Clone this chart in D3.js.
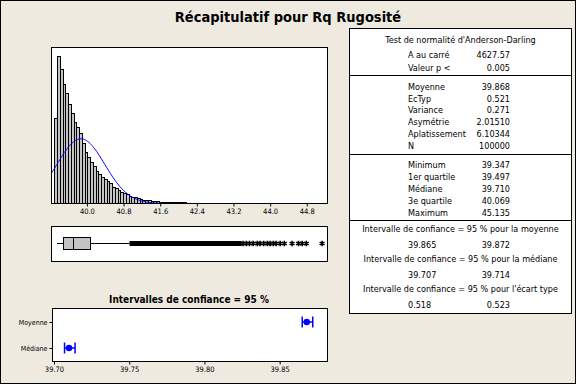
<!DOCTYPE html>
<html><head><meta charset="utf-8">
<script src="https://cdn.jsdelivr.net/npm/d3@7"></script>
<style>
body{margin:0;background:#EEEAE0}
svg{display:block}
text{font-family:'DejaVu Sans Condensed','DejaVu Sans',sans-serif;font-stretch:condensed;fill:#000}
</style>
</head><body><svg id="c" width="576" height="384"></svg>
<script>
// ---------- data ----------
const binStart = 39.30, binWidth = 0.06;
const binCounts = [6060,10440,9490,8430,7830,7010,6370,5730,5370,4950,4240,3640,3270,2930,2650,2290,2050,1880,1700,1560,1400,1160,1040,920,800,690,620,500,450,400,330,280,230,210,190,160,140,120,105,90,80,70,65,60,55,50,45,40,35,30,25,20,15];
const xTicks = [40.0,40.8,41.6,42.4,43.2,44.0,44.8];
const fitMean = 39.868, fitSd = 0.521, fitN = 100000;
const boxStats = [39.347, 39.497, 39.710, 40.069, 40.927]; // whisker low, Q1, median, Q3, whisker high
const outlierBand = [40.93, 43.38];
const outliers = [43.41,43.48,43.55,43.63,43.72,43.78,43.86,43.94,44.00,44.07,44.13,44.22,44.31,44.48,44.62,44.70,44.79,45.135];
const ciCategories = ["Moyenne","Médiane"];
const ciCenters = [39.868, 39.710];
const ciLower = [39.865, 39.707];
const ciUpper = [39.872, 39.714];
const ciTicks = [39.70,39.75,39.80,39.85];
const adLabels = ["A au carré","Valeur p <"];
const adValues = ["4627.57","0.005"];
const statLabels = ["Moyenne","EcTyp","Variance","Asymétrie","Aplatissement","N"];
const statValues = ["39.868","0.521","0.271","2.01510","6.10344","100000"];
const quartLabels = ["Minimum","1er quartile","Médiane","3e quartile","Maximum"];
const quartValues = ["39.347","39.497","39.710","40.069","45.135"];
const ciTitles = ["Intervalle de confiance = 95 % pour la moyenne","Intervalle de confiance = 95 % pour la médiane","Intervalle de confiance = 95 % pour l'écart type"];
const ciLowVals = ["39.865","39.707","0.518"];
const ciHighVals = ["39.872","39.714","0.523"];

// ---------- drawing ----------
const svg = d3.select("#c");
svg.append("rect").attr("x",0.5).attr("y",0.5).attr("width",575).attr("height",383)
  .attr("fill","#EEEAE0").attr("stroke","#000");

svg.append("text").attr("x",288).attr("y",22).attr("text-anchor","middle")
  .attr("font-size",14.5).attr("font-weight","bold").text("Récapitulatif pour Rq Rugosité");

// histogram
const hL=51.5,hR=327.5,hT=47.5,hB=203.5;
const x = d3.scaleLinear().domain([39.227,45.253]).range([hL,hR]);
const y = d3.scaleLinear().domain([0,11080]).range([hB,hT]);
svg.append("rect").attr("x",hL).attr("y",hT).attr("width",hR-hL).attr("height",hB-hT).attr("fill","#fff");
const bins = binCounts.map((c,i)=>({x0:binStart+i*binWidth,x1:binStart+(i+1)*binWidth,c}));
svg.append("g").selectAll("rect").data(bins).join("rect")
  .attr("x",d=>x(d.x0)).attr("width",d=>x(d.x1)-x(d.x0))
  .attr("y",d=>y(d.c)).attr("height",d=>y(0)-y(d.c))
  .attr("fill","#C4C4C4").attr("stroke","#000").attr("stroke-width",1).attr("shape-rendering","crispEdges");
const curvePts = d3.range(0,301).map(i=>{
  const v = 39.227 + i*(45.253-39.227)/300;
  const z=(v-fitMean)/fitSd;
  return [v, fitN*binWidth*Math.exp(-z*z/2)/(fitSd*Math.sqrt(2*Math.PI))];
});
svg.append("path").datum(curvePts).attr("fill","none").attr("stroke","#0000FF").attr("stroke-width",1)
  .attr("d",d3.line().x(d=>x(d[0])).y(d=>y(d[1])));
svg.append("rect").attr("x",hL).attr("y",hT).attr("width",hR-hL).attr("height",hB-hT)
  .attr("fill","none").attr("stroke","#000").attr("shape-rendering","crispEdges");
const xa = svg.append("g").attr("transform",`translate(0,${hB})`)
  .call(d3.axisBottom(x).tickValues(xTicks).tickFormat(d3.format(".1f")).tickSize(3).tickPadding(2));
xa.select(".domain").remove();
xa.selectAll("text").attr("font-size",7.5).attr("font-family",null);

// boxplot
const bL=51.5,bR=327.5,bT=226.5,bB=261.5, bMid=243.5;
svg.append("rect").attr("x",bL).attr("y",bT).attr("width",bR-bL).attr("height",bB-bT)
  .attr("fill","#fff").attr("stroke","#000").attr("shape-rendering","crispEdges");
svg.append("line").attr("x1",x(boxStats[0])).attr("x2",x(boxStats[1])).attr("y1",bMid).attr("y2",bMid).attr("stroke","#000");
svg.append("line").attr("x1",x(boxStats[3])).attr("x2",x(boxStats[4])).attr("y1",bMid).attr("y2",bMid).attr("stroke","#000");
svg.append("rect").attr("x",x(boxStats[1])).attr("y",237.5).attr("width",x(boxStats[3])-x(boxStats[1])).attr("height",12)
  .attr("fill","#C4C4C4").attr("stroke","#000").attr("shape-rendering","crispEdges");
svg.append("line").attr("x1",x(boxStats[2])).attr("x2",x(boxStats[2])).attr("y1",237.5).attr("y2",249.5).attr("stroke","#000").attr("shape-rendering","crispEdges");
svg.append("rect").attr("x",x(outlierBand[0])).attr("width",x(outlierBand[1])-x(outlierBand[0]))
  .attr("y",bMid-2.5).attr("height",5).attr("fill","#000");
const ast = d3.symbol().type(d3.symbolAsterisk).size(22);
svg.append("g").selectAll("path").data(outliers).join("path")
  .attr("transform",d=>`translate(${x(d)},${bMid})`).attr("d",ast)
  .attr("fill","none").attr("stroke","#000").attr("stroke-width",1.6);

// CI plot
const cL=52.5,cR=327.5,cT=308.5,cB=361.5;
const cx = d3.scaleLinear().domain([39.699,39.8818]).range([cL,cR]);
const cy = d3.scalePoint().domain(ciCategories).range([cT,cB]).padding(0.52);
svg.append("text").attr("x",189).attr("y",302.5).attr("text-anchor","middle")
  .attr("font-size",10).attr("font-weight","bold").text("Intervalles de confiance = 95 %");
svg.append("rect").attr("x",cL).attr("y",cT).attr("width",cR-cL).attr("height",cB-cT)
  .attr("fill","#fff").attr("stroke","#000").attr("shape-rendering","crispEdges");
const ca = svg.append("g").attr("transform",`translate(0,${cB})`)
  .call(d3.axisBottom(cx).tickValues(ciTicks).tickFormat(d3.format(".2f")).tickSize(3).tickPadding(2));
ca.select(".domain").remove();
ca.selectAll("text").attr("font-size",7.5).attr("font-family",null);
const cya = svg.append("g").attr("transform",`translate(${cL},0)`).call(d3.axisLeft(cy).tickSize(3).tickPadding(2));
cya.select(".domain").remove();
cya.selectAll("text").attr("font-size",7).attr("font-family",null);
const ci = ciCategories.map((c,i)=>({c,m:ciCenters[i],lo:ciLower[i],hi:ciUpper[i]}));
const cg = svg.append("g").selectAll("g").data(ci).join("g");
cg.append("line").attr("x1",d=>cx(d.lo)).attr("x2",d=>cx(d.hi)).attr("y1",d=>cy(d.c)).attr("y2",d=>cy(d.c)).attr("stroke","#0000FF").attr("stroke-width",1.5);
cg.append("line").attr("x1",d=>cx(d.lo)).attr("x2",d=>cx(d.lo)).attr("y1",d=>cy(d.c)-5.5).attr("y2",d=>cy(d.c)+5.5).attr("stroke","#0000FF").attr("stroke-width",1.5);
cg.append("line").attr("x1",d=>cx(d.hi)).attr("x2",d=>cx(d.hi)).attr("y1",d=>cy(d.c)-5.5).attr("y2",d=>cy(d.c)+5.5).attr("stroke","#0000FF").attr("stroke-width",1.5);
cg.append("circle").attr("cx",d=>cx(d.m)).attr("cy",d=>cy(d.c)).attr("r",3.2).attr("fill","#0000FF");

// table
const tL=349.5,tR=571.5,tT=28.5,tB=313.5;
svg.append("rect").attr("x",tL).attr("y",tT).attr("width",tR-tL).attr("height",tB-tT)
  .attr("fill","#fff").attr("stroke","#000").attr("shape-rendering","crispEdges");
[75.5,154.5,220.5].forEach(yy=>svg.append("line").attr("x1",tL).attr("x2",tR).attr("y1",yy).attr("y2",yy).attr("stroke","#000").attr("shape-rendering","crispEdges"));
const fs = 9;
const tc = (tL+tR)/2, lx = 408, rx = 510;
function row(lbl,val,yc){
  svg.append("text").attr("x",lx).attr("y",yc+3).attr("font-size",fs).text(lbl);
  svg.append("text").attr("x",rx).attr("y",yc+3).attr("font-size",fs).attr("text-anchor","end").text(val);
}
svg.append("text").attr("x",tc).attr("y",43).attr("font-size",fs).attr("text-anchor","middle").text("Test de normalité d'Anderson-Darling");
adLabels.forEach((l,i)=>row(l,adValues[i],55+i*12.5));
statLabels.forEach((l,i)=>row(l,statValues[i],87+i*11.7));
quartLabels.forEach((l,i)=>row(l,quartValues[i],165+i*12));
ciTitles.forEach((t,i)=>{
  svg.append("text").attr("x",tc).attr("y",229.3+i*30+3).attr("font-size",fs).attr("text-anchor","middle").text(t);
  row(ciLowVals[i],ciHighVals[i],244.5+i*30);
});
</script>
</body></html>
